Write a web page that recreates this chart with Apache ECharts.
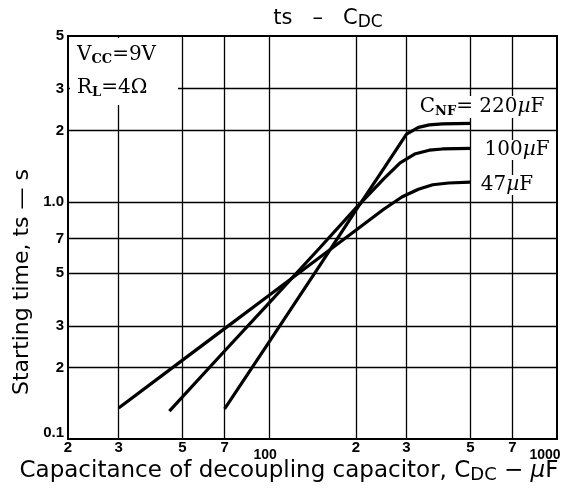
<!DOCTYPE html>
<html><head><meta charset="utf-8">
<script src="https://cdn.jsdelivr.net/npm/echarts@6/dist/echarts.min.js"></script>
<style>html,body{margin:0;padding:0;background:#fff}#c{width:569px;height:491px}</style>
</head><body><div id="c"></div>
<script>
// ---- data ----
const xTicks = [20, 30, 50, 70, 100, 200, 300, 500, 700, 1000];
const xTickLabels = ['2', '3', '5', '7', '100', '2', '3', '5', '7', '1000'];
const yTicks = [0.1, 0.2, 0.3, 0.5, 0.7, 1, 2, 3, 5];
const yTickLabels = ['0.1', '2', '3', '5', '7', '1.0', '2', '3', '5'];
const xGridValues = [30, 50, 70, 100, 200, 300, 500, 700];
const yGridValues = [0.2, 0.3, 0.5, 0.7, 1, 2, 3];

const cdc220 = [70, 100, 150, 200, 250, 300, 330, 360, 400, 500];
const ts220  = [0.134, 0.257, 0.54, 0.92, 1.38, 1.93, 2.06, 2.11, 2.13, 2.14];
const cdc100 = [45, 70, 100, 150, 200, 250, 285, 320, 360, 400, 500];
const ts100  = [0.131, 0.235, 0.375, 0.64, 0.94, 1.25, 1.46, 1.59, 1.65, 1.67, 1.68];
const cdc47  = [30, 50, 70, 100, 150, 200, 250, 290, 330, 370, 420, 500];
const ts47   = [0.135, 0.215, 0.292, 0.404, 0.584, 0.759, 0.93, 1.05, 1.13, 1.18, 1.2, 1.21];

const zip = (xs, ys) => xs.map((x, i) => [x, ys[i]]);
const findLabel = (ticks, labels, v) => {
  const i = ticks.findIndex(t => Math.abs(t - v) / t < 1e-6);
  return i < 0 ? '' : labels[i];
};

const chart = echarts.init(document.getElementById('c'), null, {renderer: 'canvas'});
const serif = '"DejaVu Serif","Liberation Serif",serif';
const sans = '"DejaVu Sans","Liberation Sans",sans-serif';
const tickFont = '"Liberation Sans","DejaVu Sans",sans-serif';

const curve = (name, data) => ({
  name, type: 'line', data, showSymbol: false, symbol: 'none', z: 5,
  lineStyle: {color: '#000', width: 3.2}, animation: false
});

const serifRich = {
  n: {font: '20px ' + serif, fill: '#000'},
  s: {font: 'bold 13px ' + serif, fill: '#000', padding: [9, 0, 0, 0]},
  i: {font: 'italic 20px ' + serif, fill: '#000'}
};

chart.setOption({
  animation: false,
  grid: {left: 68, right: 12, top: 36, bottom: 52, show: true, borderColor: '#000', borderWidth: 2},
  xAxis: {
    type: 'log', logBase: 10, min: 20, max: 1000,
    axisLine: {lineStyle: {color: '#000', width: 2}},
    axisTick: {show: false},
    splitLine: {show: false},
    axisLabel: {
      customValues: xTicks, margin: 1, color: '#000', fontFamily: tickFont, fontWeight: 'bold', fontSize: 15,
      formatter: v => {
        const s = findLabel(xTicks, xTickLabels, v);
        if (s === '100') return '{a|' + s + '}';
        if (s === '1000') return '{b|' + s + '}';
        return s;
      },
      rich: {
        a: {fontFamily: tickFont, fontWeight: 'bold', fontSize: 14, color: '#000', padding: [8, 8, 0, 0]},
        b: {fontFamily: tickFont, fontWeight: 'bold', fontSize: 14, color: '#000', padding: [8, 24, 0, 0]}
      }
    }
  },
  yAxis: {
    type: 'log', logBase: 10, min: 0.1, max: 5,
    axisLine: {lineStyle: {color: '#000', width: 2}},
    axisTick: {show: false},
    splitLine: {show: false},
    axisLabel: {
      customValues: yTicks, margin: 4, color: '#000', fontFamily: tickFont, fontWeight: 'bold', fontSize: 15,
      formatter: v => {
        const s = findLabel(yTicks, yTickLabels, v);
        return s === '0.1' ? '{a|' + s + '}' : s;
      },
      rich: {a: {fontFamily: tickFont, fontWeight: 'bold', fontSize: 15, color: '#000', padding: [0, 0, 12, 0]}}
    }
  },
  series: [
    {
      type: 'line', data: [], z: 1, silent: true,
      markLine: {
        silent: true, symbol: 'none', animation: false,
        label: {show: false},
        lineStyle: {color: '#000', width: 1.3, type: 'solid'},
        data: xGridValues.map(v => ({xAxis: v})).concat(yGridValues.map(v => ({yAxis: v})))
      }
    },
    curve('220', zip(cdc220, ts220)),
    curve('100', zip(cdc100, ts100)),
    curve('47', zip(cdc47, ts47))
  ],
  graphic: [
    {type: 'rect', z: 50, shape: {x: 70, y: 38, width: 108, height: 67}, style: {fill: '#fff'}},
    {type: 'text', z: 60, style: {
      x: 77, y: 55, verticalAlign: 'middle', text: '{n|V}{s|CC}{n|=9V}', rich: serifRich
    }},
    {type: 'text', z: 60, style: {
      x: 77, y: 88, verticalAlign: 'middle', text: '{n|R}{s|L}{n|=4Ω}', rich: serifRich
    }},
    {type: 'text', z: 60, style: {
      x: 482, y: 107, align: 'center', verticalAlign: 'middle', backgroundColor: '#fff', padding: [0, 2, 0, 2],
      text: '{n|C}{s|NF}{n|= 220}{i|µ}{n|F}', rich: serifRich
    }},
    {type: 'text', z: 60, style: {
      x: 517, y: 150, align: 'center', verticalAlign: 'middle', backgroundColor: '#fff', padding: [0, 2, 0, 2],
      text: '{n|100}{i|µ}{n|F}', rich: serifRich
    }},
    {type: 'text', z: 60, style: {
      x: 507, y: 185, align: 'center', verticalAlign: 'middle', backgroundColor: '#fff', padding: [0, 2, 0, 2],
      text: '{n|47}{i|µ}{n|F}', rich: serifRich
    }},
    {type: 'text', z: 60, style: {
      x: 328, y: 19, align: 'center', verticalAlign: 'middle',
      text: '{n|ts   –   C}{s|DC}',
      rich: {n: {font: '21px ' + sans, fill: '#000'}, s: {font: '17px ' + sans, fill: '#000', padding: [7, 0, 0, 0]}}
    }},
    {type: 'text', z: 60, style: {
      x: 289, y: 471, align: 'center', verticalAlign: 'middle',
      text: '{n|Capacitance of decoupling capacitor, C}{s|DC}{n| − }{i|µ}{n|F}',
      rich: {n: {font: '23px ' + sans, fill: '#000'}, s: {font: '18px ' + sans, fill: '#000', padding: [8, 0, 0, 0]}, i: {font: 'italic 23px ' + sans, fill: '#000'}}
    }},
    {type: 'text', z: 60, x: 22, y: 282, rotation: Math.PI / 2, style: {
      x: 0, y: 0, align: 'center', verticalAlign: 'middle',
      text: 'Starting time, ts — s', font: '22px ' + sans, fill: '#000'
    }}
  ]
});
</script>
</body></html>
